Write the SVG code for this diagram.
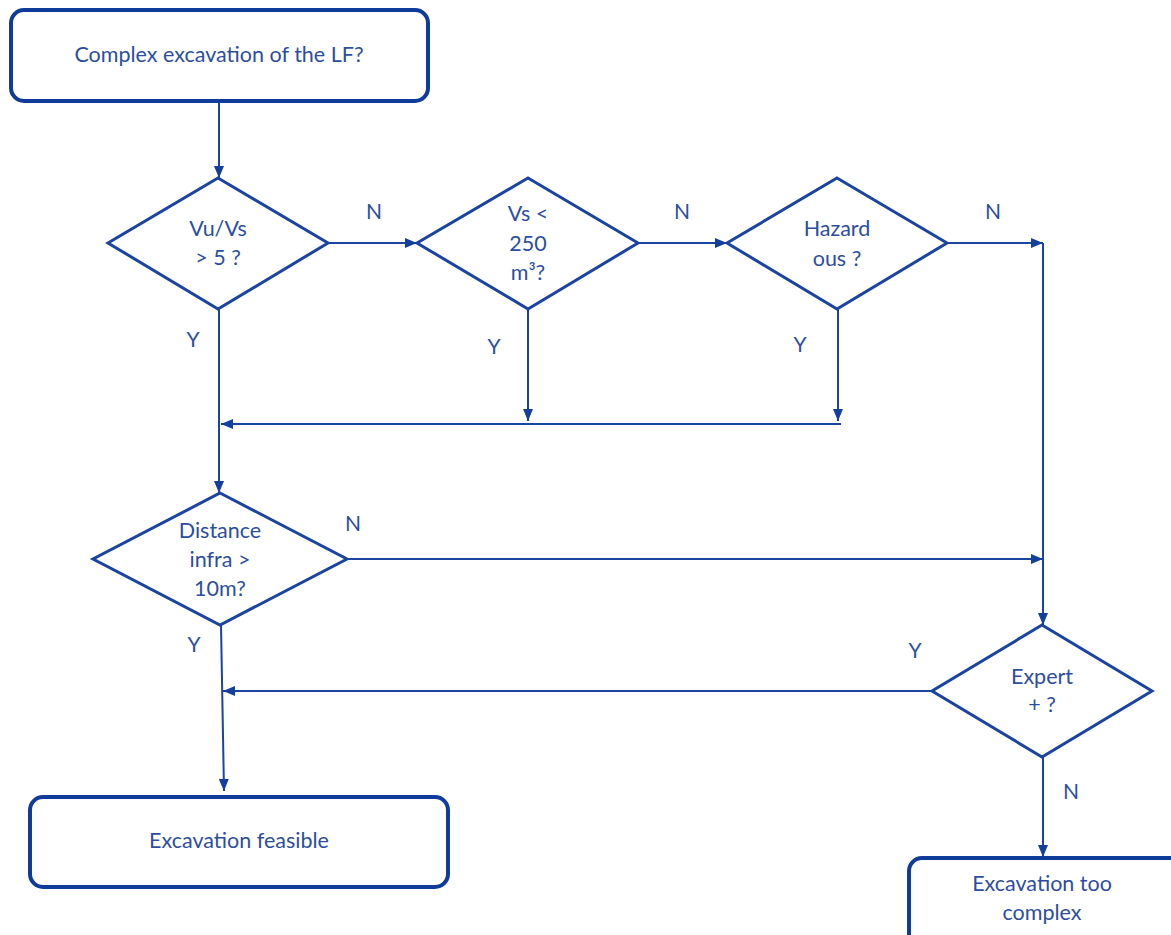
<svg xmlns="http://www.w3.org/2000/svg" width="1171" height="935" viewBox="0 0 1171 935">
<style>
.box{fill:#fff;stroke:#0f3c9b;stroke-width:4}
.dia{fill:#fff;stroke:#1a44a0;stroke-width:3}
.con{fill:none;stroke:#1a44a0;stroke-width:2}
text{font-family:Lato,"Open Sans",sans-serif;font-size:21.5px;fill:#2d4e9e;text-anchor:middle}
.lbl{font-size:21px}
</style>
<defs>
<marker id="ah" viewBox="0 0 12 10" refX="12" refY="5" markerWidth="12" markerHeight="10" markerUnits="userSpaceOnUse" orient="auto">
<path d="M0,0 L12,5 L0,10 z" fill="#153f9c"/>
</marker>
</defs>
<rect width="1171" height="935" fill="#fff"/>
<g id="connectors">
<line class="con" x1="219" y1="101" x2="219" y2="178" marker-end="url(#ah)"/>
<line class="con" x1="328" y1="243" x2="417" y2="243" marker-end="url(#ah)"/>
<line class="con" x1="638" y1="243" x2="727" y2="243" marker-end="url(#ah)"/>
<line class="con" x1="947" y1="243" x2="1043" y2="243" marker-end="url(#ah)"/>
<line class="con" x1="1043" y1="243" x2="1043" y2="625" marker-end="url(#ah)"/>
<line class="con" x1="219" y1="309" x2="219" y2="493" marker-end="url(#ah)"/>
<line class="con" x1="528" y1="309" x2="528" y2="421" marker-end="url(#ah)"/>
<line class="con" x1="838" y1="309" x2="838" y2="421" marker-end="url(#ah)"/>
<line class="con" x1="841" y1="424" x2="221" y2="424" marker-end="url(#ah)"/>
<line class="con" x1="347" y1="559" x2="1043" y2="559" marker-end="url(#ah)"/>
<line class="con" x1="221" y1="625" x2="224" y2="791" marker-end="url(#ah)"/>
<line class="con" x1="932" y1="691" x2="223" y2="691" marker-end="url(#ah)"/>
<line class="con" x1="1043" y1="757" x2="1043" y2="857" marker-end="url(#ah)"/>
<text class="lbl" x="374" y="219">N</text>
<text class="lbl" x="682" y="219">N</text>
<text class="lbl" x="993" y="219">N</text>
<text class="lbl" x="193" y="347">Y</text>
<text class="lbl" x="494" y="354">Y</text>
<text class="lbl" x="800" y="352">Y</text>
<text class="lbl" x="353" y="531">N</text>
<text class="lbl" x="194" y="652">Y</text>
<text class="lbl" x="915" y="658">Y</text>
<text class="lbl" x="1071" y="799">N</text>
</g>
<g id="start">
<rect class="box" x="11" y="10" width="417" height="91" rx="13"/>
<text x="219" y="62">Complex excavation of the LF?</text>
</g>
<g id="d1">
<polygon class="dia" points="218,178 328,243 218,309 108,243"/>
<text x="218" y="236">Vu/Vs</text>
<text x="218" y="265">&gt; 5 ?</text>
</g>
<g id="d2">
<polygon class="dia" points="528,178 638,243 528,309 417,243"/>
<text x="528" y="221">Vs &lt;</text>
<text x="528" y="251">250</text>
<text x="528" y="280">m³?</text>
</g>
<g id="d3">
<polygon class="dia" points="837,178 947,243 837,309 727,243"/>
<text x="837" y="236">Hazard</text>
<text x="837" y="266">ous ?</text>
</g>
<g id="d4">
<polygon class="dia" points="220,493 347,559 220,625 93,559"/>
<text x="220" y="538">Distance</text>
<text x="220" y="567">infra &gt;</text>
<text x="220" y="596">10m?</text>
</g>
<g id="d5">
<polygon class="dia" points="1042,625 1152,691 1042,757 932,691"/>
<text x="1042" y="684">Expert</text>
<text x="1042" y="712">+ ?</text>
</g>
<g id="feasible">
<rect class="box" x="30" y="797" width="418" height="90" rx="13"/>
<text x="239" y="848">Excavation feasible</text>
</g>
<g id="toocomplex">
<rect class="box" x="909" y="858" width="280" height="100" rx="13"/>
<text x="1042" y="891">Excavation too</text>
<text x="1042" y="920">complex</text>
</g>
</svg>
